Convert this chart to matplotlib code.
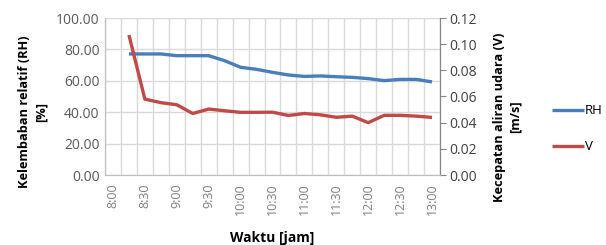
import matplotlib
matplotlib.use('Agg')
import matplotlib.pyplot as plt
import numpy as np

# Time categories every 15 minutes (first slot has no data)
times = ['8:00', '8:15', '8:30', '8:45', '9:00', '9:15', '9:30', '9:45', '10:00', '10:15',
         '10:30', '10:45', '11:00', '11:15', '11:30', '11:45', '12:00', '12:15', '12:30',
         '12:45', '13:00']
rh = [np.nan, 77.1, 77.1, 77.1, 76.0, 76.0, 76.0, 72.8, 68.6, 67.3, 65.4, 63.7,
      62.8, 63.1, 62.6, 62.2, 61.4, 60.1, 60.9, 60.9, 59.3]
v = [np.nan, 0.107, 0.058, 0.0553, 0.0537, 0.047, 0.0504, 0.0491, 0.0479, 0.0479,
     0.048, 0.0455, 0.047, 0.046, 0.0441, 0.045, 0.040, 0.0456, 0.0456, 0.045, 0.044]

plt.rcParams.update({'font.family': 'Open Sans', 'font.size': 9})
fig = plt.figure(figsize=(6.06, 2.45), dpi=100)
ax = fig.add_axes([105 / 606, 1 - 175 / 245, 335 / 606, 157 / 245])
ax2 = ax.twinx()

x = np.arange(len(times))
blue, red = '#4a7ebb', '#be4b48'
l1, = ax.plot(x, rh, color=blue, lw=2.4, solid_capstyle='butt', label='RH')
l2, = ax2.plot(x, v, color=red, lw=2.4, solid_capstyle='butt', label='V')

ax.set_xlim(-0.5, len(times) - 0.5)
ax.set_ylim(0, 100)
ax2.set_ylim(0, 0.12)
ax.set_yticks(np.arange(0, 101, 20))
ax.set_yticklabels([f'{t:.2f}' for t in np.arange(0, 101, 20)])
ax2.set_yticks(np.arange(0, 0.121, 0.02))
ax2.set_yticklabels([f'{t:.2f}' for t in np.arange(0, 0.121, 0.02)])

ax.set_xticks(x[::2])
ax.set_xticklabels(times[::2], rotation=90)
ax.set_xticks(np.arange(-0.5, len(times), 1), minor=True)
ax.tick_params(axis='x', which='both', length=0, pad=6, labelsize=9)
ax.tick_params(axis='y', length=0, colors='#595959', labelsize=10, pad=4)
ax2.tick_params(axis='y', length=4, colors='#868686', labelsize=10, pad=3)
for t in ax2.get_yticklabels():
    t.set_color('#404040')
for t in ax.get_xticklabels():
    t.set_color('#808080')

ax.grid(True, axis='y', color='#d9d9d9', lw=1)
ax.grid(True, axis='x', which='minor', color='#d9d9d9', lw=1)
ax.set_axisbelow(True)
ax.spines['top'].set_visible(False)
ax2.spines['top'].set_visible(False)
for a in (ax, ax2):
    a.spines['left'].set_color('#bfbfbf')
    a.spines['bottom'].set_color('#bfbfbf')
    a.spines['right'].set_color('#868686')
ax.set_zorder(ax2.get_zorder() - 1)
ax2.patch.set_visible(False)

ax.set_ylabel('Kelembaban relatif (RH)\n[%]', fontweight='bold', fontsize=9.2,
              linespacing=1.3)
ax.yaxis.set_label_coords(-0.172, 0.40)
ax2.set_ylabel('Kecepatan aliran udara (V)\n[m/s]', fontweight='bold', fontsize=9.2,
               linespacing=1.3)
ax2.yaxis.set_label_coords(1.158, 0.37)
ax.set_xlabel('Waktu [jam]', fontweight='bold', fontsize=10)
ax.xaxis.set_label_coords(0.5, -0.355)

fig.legend(handles=[l1, l2], loc='upper left', bbox_to_anchor=(543 / 606, 1 - 95 / 245),
           frameon=False, handlelength=2.4, handletextpad=0.05, labelspacing=1.75,
           fontsize=9.5, borderaxespad=0.3)

plt.savefig('out.png', dpi=100)
